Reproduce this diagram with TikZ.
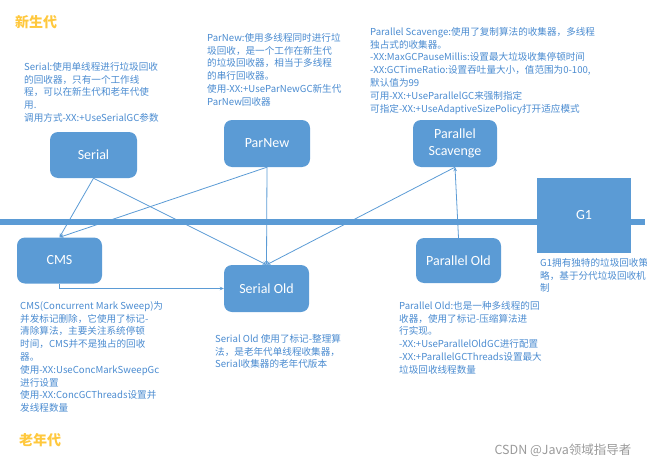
\documentclass[tikz,border=0pt]{standalone}
\usepackage{fontspec}
\setmainfont{Noto Sans CJK SC}
\newfontfamily\boxfont{Carlito}
\usetikzlibrary{arrows.meta}
\definecolor{gcblue}{HTML}{5B9BD5}
\definecolor{noteblue}{HTML}{4A8BD0}
\definecolor{genyellow}{HTML}{FFC83D}
\definecolor{markgray}{HTML}{9A9A9A}

\begin{document}
\begin{tikzpicture}[x=1pt,y=-1pt,
  gcbox/.style={fill=gcblue,rounded corners=8pt,text=white,inner sep=0pt,
    align=center,font=\boxfont\fontsize{14}{17}\selectfont},
  note/.style={anchor=north west,inner sep=0pt,align=left,text=noteblue,
    font=\fontsize{9.6}{12.8}\selectfont},
  gentitle/.style={text=genyellow,inner sep=0pt,font=\fontsize{14}{16}\selectfont\bfseries},
  link/.style={gcblue,line width=0.8pt,-{Stealth[length=4pt,width=3.5pt]}}]
  \useasboundingbox (0,0) rectangle (663,468);

  % the line between young and old generation
  \draw[gcblue,line width=6pt] (0,221.5) -- (645,221.5);

  \node[gentitle] (young) at (36,22) {新生代};
  \node[gentitle] (old) at (40,440) {老年代};

  % collectors
  \node[gcbox,minimum width=87pt,minimum height=46pt] (serial) at (93.5,155) {Serial};
  \node[gcbox,minimum width=86pt,minimum height=47pt] (parnew) at (267,143.5) {ParNew};
  \node[gcbox,minimum width=84pt,minimum height=47pt] (scavenge) at (455,143.5) {Parallel\\Scavenge};
  \node[gcbox,minimum width=85pt,minimum height=46pt] (cms) at (59.5,260.5) {CMS};
  \node[gcbox,minimum width=85pt,minimum height=47pt] (serialold) at (266.5,288.5) {Serial Old};
  \node[gcbox,minimum width=85pt,minimum height=45pt] (parold) at (458.5,260.5) {Parallel Old};
  \node[gcbox,rounded corners=0pt,minimum width=94pt,minimum height=75pt] (g1) at (584,215.5) {G1};

  \draw[link] (serial.south) -- (cms.north);
  \draw[link] (serial.south) -- (serialold.north);
  \draw[link] (parnew.south) -- (cms.north);
  \draw[link] (parnew.south) -- (serialold.north);
  \draw[link] (scavenge.south) -- (serialold.north);
  \draw[link] (parold.north) -- (scavenge.south);
  \draw[link] (cms.south) |- (serialold.west);

  % notes
  \node[note] (serialtxt) at (24,62) {Serial:使用单线程进行垃圾回收\\的回收器，只有一个工作线\\程，可以在新生代和老年代使\\用.\\调用方式-XX:+UseSerialGC参数};
  \node[note] (parnewtxt) at (207,33) {ParNew:使用多线程同时进行垃\\圾回收，是一个工作在新生代\\的垃圾回收器，相当于多线程\\的串行回收器。\\使用-XX:+UseParNewGC新生代\\ParNew回收器};
  \node[note] (scavengetxt) at (370,27) {Parallel Scavenge:使用了复制算法的收集器，多线程\\独占式的收集器。\\-XX:MaxGCPauseMillis:设置最大垃圾收集停顿时间\\-XX:GCTimeRatio:设置吞吐量大小，值范围为0-100,\\默认值为99\\可用-XX:+UseParallelGC来强制指定\\可指定-XX:+UseAdaptiveSizePolicy打开适应模式};
  \node[note] (cmstxt) at (20,301) {CMS(Concurrent Mark Sweep)为\\并发标记删除，它使用了标记-\\清除算法，主要关注系统停顿\\时间，CMS并不是独占的回收\\器。\\使用-XX:UseConcMarkSweepGc\\进行设置\\使用-XX:ConcGCThreads设置并\\发线程数量};
  \node[note] (serialoldtxt) at (215,334) {Serial Old 使用了标记-整理算\\法，是老年代单线程收集器，\\Serial收集器的老年代版本};
  \node[note] (paroldtxt) at (399,301) {Parallel Old:也是一种多线程的回\\收器，使用了标记-压缩算法进\\行实现。\\-XX:+UseParallelOldGC进行配置\\-XX:+ParallelGCThreads设置最大\\垃圾回收线程数量};
  \begin{scope}
    \clip (530,250) rectangle (646,300);
    \node[note] (g1txt) at (540,258) {G1拥有独特的垃圾回收策\\略，基于分代垃圾回收机\\制};
  \end{scope}

  \node[text=markgray,inner sep=0pt,font=\fontsize{12.5}{14}\selectfont] (mark) at (563,450) {CSDN @Java领域指导者};
\end{tikzpicture}
\end{document}
